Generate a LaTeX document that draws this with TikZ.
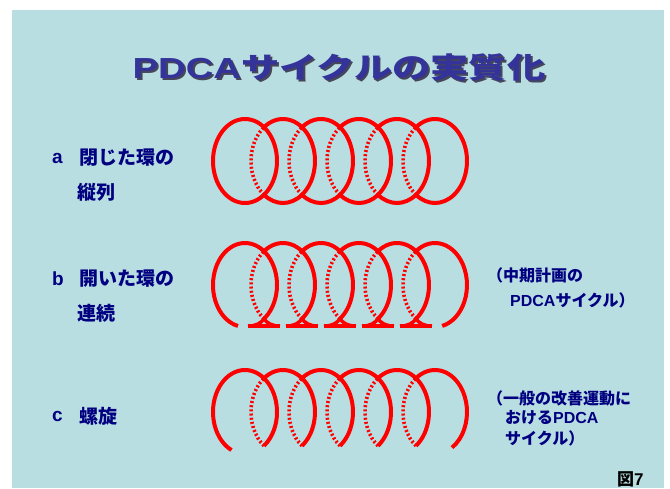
\documentclass[tikz,border=0pt]{standalone}
\usepackage{fontspec}
\usepackage{graphicx}
\setmainfont{Liberation Sans}
\newfontfamily\jp{Noto Sans CJK JP}
\definecolor{bg}{RGB}{185,222,226}
\definecolor{ringred}{RGB}{255,0,0}
\definecolor{titleblue}{RGB}{51,51,153}
\definecolor{labelblue}{RGB}{0,0,128}
\definecolor{titleshadow}{RGB}{70,70,90}
\newcommand{\titletext}{\scalebox{1.32}[1]{PDCA{\jp サイクルの実質化}}}
\begin{document}
\begin{tikzpicture}[x=1pt,y=-1pt,
  frontring/.style={draw=ringred,line width=4pt},
  backring/.style={draw=ringred,line width=3.6pt,dash pattern=on 2pt off 2.2pt},
  lab/.style={anchor=west,text=labelblue,inner sep=0pt,font=\fontsize{19}{21}\selectfont\bfseries},
  note/.style={anchor=west,text=labelblue,inner sep=0pt,font=\fontsize{16}{18}\selectfont\bfseries},
  ttl/.style={inner sep=0pt,font=\fontsize{29}{31}\selectfont\bfseries}]
\useasboundingbox (0,0) rectangle (670,488);
\fill[bg] (12,10) rectangle (664,488);

% title with drop shadow in one node
\node[ttl] (title) at (339,68) {\makebox[0pt][l]{\raisebox{-2pt}[0pt][0pt]{\hspace{2pt}\color{titleshadow}\titletext}}\color{titleblue}\titletext};

% left labels
\node[lab] (la) at (52,158) {a};
\node[lab] (la1) at (79,158) {\jp 閉じた環の};
\node[lab] (la2) at (77,192) {\jp 縦列};
\node[lab] (lb) at (52,279) {b};
\node[lab] (lb1) at (79,279) {\jp 開いた環の};
\node[lab] (lb2) at (77,313) {\jp 連続};
\node[lab] (lc) at (52,416) {c};
\node[lab] (lc1) at (79,416) {\jp 螺旋};

% right notes
\node[note] (nb1) at (487,275) {\jp （中期計画の};
\node[note] (nb2) at (510,300) {PDCA{\jp サイクル）}};
\node[note] (nc1) at (487,398) {\jp （一般の改善運動に};
\node[note] (nc2) at (505,418) {{\jp おける}PDCA};
\node[note] (nc3) at (505,438) {\jp サイクル）};
\node[anchor=west,inner sep=0pt,font=\fontsize{17}{19}\selectfont\bfseries] (fig) at (617,479) {{\jp 図}7};

% centres
\foreach \k/\x in {1/245,2/283,3/321,4/359,5/397,6/435}{
  \coordinate (a\k) at (\x,161);
  \coordinate (b\k) at (\x,285);
  \coordinate (c\k) at (\x,412);
}

% row a : closed rings
\draw[frontring] (a1) ellipse[x radius=32,y radius=42];
\foreach \k in {2,...,6}{
  \draw[frontring] ([shift={(-126.4:32 and 42)}]a\k) arc[start angle=-126.4,end angle=126.4,x radius=32,y radius=42];
  \draw[backring] ([shift={(126.4:32 and 42)}]a\k) arc[start angle=126.4,end angle=233.6,x radius=32,y radius=42];
}

% row b : open rings
\draw[frontring] ([shift={(-257.4:32 and 42)}]b1) arc[start angle=-257.4,end angle=53.6,x radius=32,y radius=42];
\foreach \k in {2,...,5}{
  \draw[frontring] ([shift={(-126.4:32 and 42)}]b\k) arc[start angle=-126.4,end angle=53.6,x radius=32,y radius=42];
}
\draw[frontring] ([shift={(-126.4:32 and 42)}]b6) arc[start angle=-126.4,end angle=77,x radius=32,y radius=42];
\foreach \k in {2,...,6}{
  \draw[backring] ([shift={(126.4:32 and 42)}]b\k) arc[start angle=126.4,end angle=233.6,x radius=32,y radius=42];
}
\foreach \k in {1,...,5}{
  \coordinate (j\k) at ([shift={(53.6:32 and 42)}]b\k);
  \draw[frontring,line width=3.5pt,line join=round]
    ([shift={(-16,7.2)}]j\k) .. controls ([shift={(-7,7.2)}]j\k) and ([shift={(-3,4)}]j\k) .. (j\k)
    .. controls ([shift={(3,4)}]j\k) and ([shift={(7,7.2)}]j\k) .. ([shift={(16,7.2)}]j\k);
  \draw[frontring,line width=3.5pt] ([shift={(-16,7.2)}]j\k) -- ([shift={(16,7.2)}]j\k);
}

% row c : spiral
\draw[frontring] ([shift={(-245:32 and 42)}]c1) arc[start angle=-245,end angle=53.6,x radius=32,y radius=42];
\foreach \k in {2,...,5}{
  \draw[frontring] ([shift={(-126.4:32 and 42)}]c\k) arc[start angle=-126.4,end angle=53.6,x radius=32,y radius=42];
}
\draw[frontring] ([shift={(-126.4:32 and 42)}]c6) arc[start angle=-126.4,end angle=58,x radius=32,y radius=42];
\foreach \k in {2,...,6}{
  \draw[backring] ([shift={(126.4:32 and 42)}]c\k) arc[start angle=126.4,end angle=233.6,x radius=32,y radius=42];
}
\end{tikzpicture}
\end{document}
